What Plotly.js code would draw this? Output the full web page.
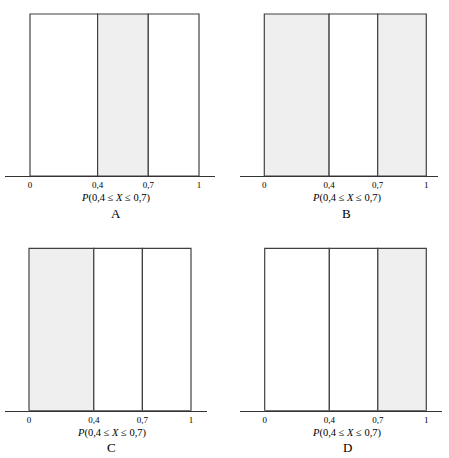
<!DOCTYPE html>
<html>
<head>
<meta charset="utf-8">
<script src="https://cdn.plot.ly/plotly-3.0.1.min.js"></script>
<style>html,body{margin:0;padding:0;background:#fff;}#plot{width:449px;height:458px;}</style>
</head>
<body>
<div id="plot"></div>
<script>
// Interval boundaries on [0,1]
const edges = [0, 0.4, 0.7, 1];
const tickLabels = ["0", "0,4", "0,7", "1"];
const densityHeight = [1, 1, 1];
// Which interval is shaded in each panel (1 = shaded)
const panelLetters = ["A", "B", "C", "D"];
const shadedA = [0, 1, 0];
const shadedB = [1, 0, 1];
const shadedC = [1, 0, 0];
const shadedD = [0, 0, 1];
const axisLabel = "<i>P</i>(0,4 ≤ <i>X</i> ≤ 0,7)";

const shadeColor = "#efefef";
const lineColor = "#404040";
const font = "Liberation Serif, Times New Roman, serif";

const mids = [], widths = [];
for (let i = 0; i < edges.length - 1; i++) {
  mids.push((edges[i] + edges[i + 1]) / 2);
  widths.push(edges[i + 1] - edges[i]);
}

const shadings = [shadedA, shadedB, shadedC, shadedD];
const axisIds = ["", "2", "3", "4"];
const traces = shadings.map((s, k) => ({
  type: "bar",
  x: mids,
  y: densityHeight,
  width: widths,
  xaxis: "x" + axisIds[k],
  yaxis: "y" + axisIds[k],
  marker: {
    color: s.map(v => v ? shadeColor : "#ffffff"),
    line: {color: lineColor, width: 1.2}
  },
  hoverinfo: "skip",
  showlegend: false
}));

const W = 449, H = 458;
// pixel geometry: [axisLeft, axisRight, zeroPx, pxPerUnit, axisY, topY]
const geo = [
  [5, 215, 30, 169, 176, 14],
  [240, 438, 264.3, 162, 176, 14],
  [5, 207, 29, 162, 410.7, 248.3],
  [240, 442, 264.7, 161.6, 410.7, 248.3]
];
const yMax = 1.02;
const layout = {
  width: W, height: H,
  margin: {l: 0, r: 0, t: 0, b: 0},
  paper_bgcolor: "#fff", plot_bgcolor: "rgba(0,0,0,0)",
  font: {family: font, color: "#000"},
  bargap: 0,
  annotations: []
};
geo.forEach((g, k) => {
  const [al, ar, z, ppu, ay, ty] = g;
  const span = ay - ty;
  const topPx = ay - span * yMax;
  layout["xaxis" + axisIds[k]] = {
    domain: [al / W, ar / W],
    range: [(al - z) / ppu, (ar - z) / ppu],
    anchor: "y" + axisIds[k],
    showgrid: false, zeroline: false,
    showline: true, linecolor: "#333", linewidth: 1.2,
    ticks: "",
    tickvals: edges, ticktext: tickLabels,
    tickfont: {family: font, size: 9, color: "#000"},
    fixedrange: true
  };
  layout["yaxis" + axisIds[k]] = {
    domain: [(H - ay) / H, (H - topPx) / H],
    range: [0, yMax],
    anchor: "x" + axisIds[k],
    showgrid: false, zeroline: false, showline: false,
    showticklabels: false, ticks: "",
    fixedrange: true
  };
  layout.annotations.push({
    text: axisLabel, xref: "x" + axisIds[k], yref: "paper",
    x: 0.51, y: (H - (ay + 22)) / H, yanchor: "middle", xanchor: "center",
    showarrow: false, font: {family: font, size: 10.5, color: "#000"}
  });
  layout.annotations.push({
    text: panelLetters[k], xref: "x" + axisIds[k], yref: "paper",
    x: 0.51, y: (H - (ay + 37)) / H, yanchor: "middle", xanchor: "center",
    showarrow: false, font: {family: font, size: 13, color: "#000"}
  });
});

Plotly.newPlot("plot", traces, layout, {displayModeBar: false, staticPlot: true});
</script>
</body>
</html>
